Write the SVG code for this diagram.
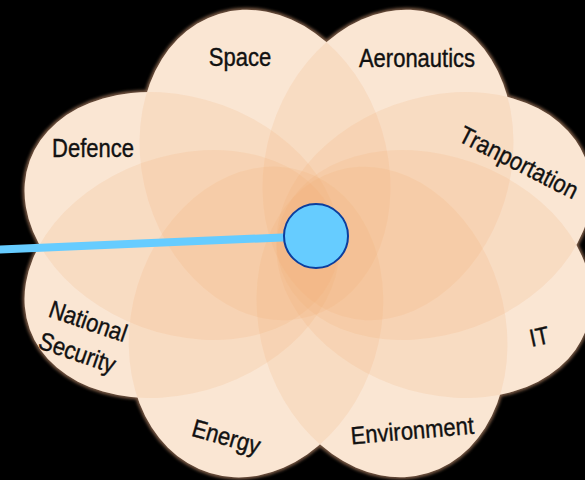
<svg xmlns="http://www.w3.org/2000/svg" xmlns:xlink="http://www.w3.org/1999/xlink" width="585" height="480" viewBox="0 0 585 480">
  <defs>
    <style>
      .rim { fill: none; stroke: #7a5a44; stroke-width: 4; }
      .base { fill: #FCF2E8; stroke: none; }
      .ov { fill: #F3AA6E; fill-opacity: 0.165; stroke: none; }
      .lbl { font-family: "Liberation Sans", Arial, Helvetica, sans-serif; font-size: 22px; fill: #111; stroke: #111; stroke-width: 0.35; text-anchor: middle; }
    </style>
    <filter id="soft" x="-10%" y="-10%" width="120%" height="120%">
      <feGaussianBlur stdDeviation="1.4"/>
    </filter>
    <ellipse id="e-space" cx="265" cy="165" rx="122" ry="158" transform="rotate(-17 265 165)"/>
    <ellipse id="e-aero" cx="388" cy="165" rx="122" ry="158" transform="rotate(17 388 165)"/>
    <ellipse id="e-energy" cx="256" cy="322" rx="124" ry="158" transform="rotate(17 256 322)"/>
    <ellipse id="e-env" cx="382" cy="322" rx="122" ry="158" transform="rotate(-17 382 322)"/>
    <ellipse id="e-def" cx="182" cy="216" rx="162" ry="118" transform="rotate(20 182 216)"/>
    <ellipse id="e-nat" cx="182" cy="274" rx="162" ry="118" transform="rotate(-20 182 274)"/>
    <ellipse id="e-trans" cx="434" cy="216" rx="162" ry="118" transform="rotate(-20 434 216)"/>
    <ellipse id="e-it" cx="434" cy="274" rx="162" ry="118" transform="rotate(20 434 274)"/>
  </defs>

  <rect width="585" height="480" fill="#000"/>

  <g id="outline-rim" filter="url(#soft)">
    <use xlink:href="#e-space" class="rim"/>
    <use xlink:href="#e-aero" class="rim"/>
    <use xlink:href="#e-energy" class="rim"/>
    <use xlink:href="#e-env" class="rim"/>
    <use xlink:href="#e-def" class="rim"/>
    <use xlink:href="#e-nat" class="rim"/>
    <use xlink:href="#e-trans" class="rim"/>
    <use xlink:href="#e-it" class="rim"/>
  </g>
  <g id="petal-base">
    <use xlink:href="#e-space" class="base"/>
    <use xlink:href="#e-aero" class="base"/>
    <use xlink:href="#e-energy" class="base"/>
    <use xlink:href="#e-env" class="base"/>
    <use xlink:href="#e-def" class="base"/>
    <use xlink:href="#e-nat" class="base"/>
    <use xlink:href="#e-trans" class="base"/>
    <use xlink:href="#e-it" class="base"/>
  </g>

  <g id="node-space">
    <use xlink:href="#e-space" class="ov"/>
  </g>
  <g id="node-aeronautics">
    <use xlink:href="#e-aero" class="ov"/>
  </g>
  <g id="node-energy">
    <use xlink:href="#e-energy" class="ov"/>
  </g>
  <g id="node-environment">
    <use xlink:href="#e-env" class="ov"/>
  </g>
  <g id="node-defence">
    <use xlink:href="#e-def" class="ov"/>
  </g>
  <g id="node-national-security">
    <use xlink:href="#e-nat" class="ov"/>
  </g>
  <g id="node-tranportation">
    <use xlink:href="#e-trans" class="ov"/>
  </g>
  <g id="node-it">
    <use xlink:href="#e-it" class="ov"/>
  </g>

  <g id="labels">
    <text class="lbl" transform="translate(240,66) scale(1,1.13)">Space</text>
    <text class="lbl" transform="translate(417,67) scale(1,1.13)">Aeronautics</text>
    <text class="lbl" transform="translate(93,157) scale(1,1.13)">Defence</text>
    <text class="lbl" transform="translate(515,170) rotate(27) scale(1,1.13)">Tranportation</text>
    <text class="lbl" transform="translate(80,345) rotate(19) scale(1,1.13)"><tspan x="0" y="-14.7">National</tspan><tspan x="0" y="14.7">Security</tspan></text>
    <text class="lbl" transform="translate(224,445) rotate(16) scale(1,1.13)">Energy</text>
    <text class="lbl" transform="translate(413,439) rotate(-5) scale(1,1.13)">Environment</text>
    <text class="lbl" transform="translate(541,345) rotate(-12) scale(1,1.13)">IT</text>
  </g>

  <g id="connectors">
    <line x1="-2" y1="249.6" x2="316" y2="236" stroke="#66CCFF" stroke-width="8"/>
  </g>
  <g id="node-hub">
    <circle cx="316" cy="236" r="32" fill="#66CCFF" stroke="#0B3E9E" stroke-width="2"/>
  </g>
</svg>
